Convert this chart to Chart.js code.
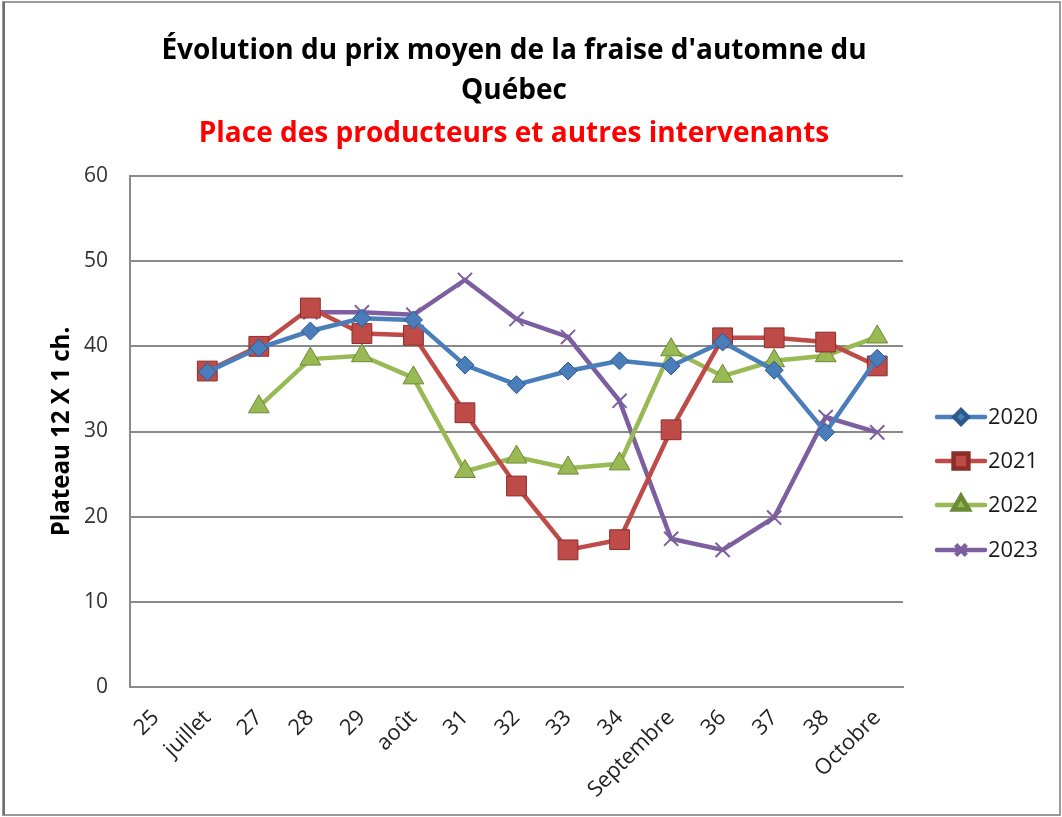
<!DOCTYPE html>
<html>
<head>
<meta charset="utf-8">
<script src="https://cdn.jsdelivr.net/npm/chart.js@4/dist/chart.umd.min.js"></script>
<style>
html,body{margin:0;padding:0;background:#fff;}
#wrap{width:1062px;height:817px;position:relative;}
</style>
</head>
<body>
<div id="wrap"><canvas id="c" width="1062" height="817"></canvas></div>
<script>
const categories = ['25','juillet','27','28','29','août','31','32','33','34','Septembre','36','37','38','Octobre'];
const seriesNames = ['2020','2021','2022','2023'];
const v2020 = [null, 37, 39.8, 41.8, 43.3, 43.1, 37.8, 35.5, 37.1, 38.3, 37.7, 40.5, 37.2, 29.9, 38.6];
const v2021 = [null, 37.1, 40.0, 44.5, 41.5, 41.3, 32.2, 23.6, 16.1, 17.3, 30.2, 41.0, 41.0, 40.5, 37.7];
const v2022 = [null, null, 32.9, 38.5, 38.9, 36.3, 25.3, 27.0, 25.7, 26.2, 39.6, 36.5, 38.3, 38.9, 41.1];
const v2023 = [null, null, null, 44.0, 44.0, 43.7, 47.8, 43.2, 41.1, 33.6, 17.4, 16.1, 19.9, 31.7, 29.9];
const yTicks = [0, 10, 20, 30, 40, 50, 60];

const titleLines = ["Évolution du prix moyen de la fraise d'automne du", 'Québec'];
const subtitleText = 'Place des producteurs et autres intervenants';
const yTitleText = 'Plateau 12 X 1 ch.';

const FAM = '"Open Sans", Lato, sans-serif';
const mctx = document.createElement('canvas').getContext('2d');
function fitSize(text, weight, target) {
  mctx.font = weight + ' 100px ' + FAM;
  const w = mctx.measureText(text).width;
  return Math.round(100 * target / w * 10) / 10;
}
const titleSize = Math.min(fitSize(titleLines[0], 'bold', 723), 28);
const subSize = Math.min(fitSize(subtitleText, 'bold', 638), 28);
const yTitleSize = fitSize(yTitleText, 'bold', 210);
const xTickSize = Math.min(fitSize('Septembre', 'normal', 112), 22);
const yTickSize = Math.min(fitSize('60', 'normal', 25), 21);
const legendSize = Math.min(fitSize('2020', 'normal', 50), 22);

const colors = ['#4A7EBB', '#BE4B48', '#98B954', '#7D5FA0'];
const borders = ['#2C5A8C', '#8C2D2A', '#6B8A35', '#5A4078'];
const styles = ['rectRot', 'rect', 'triangle', 'crossRot'];
const radii = [9, 14, 12, 10];
const allValues = [v2020, v2021, v2022, v2023];

const datasets = seriesNames.map((n, i) => ({
  label: n,
  data: allValues[i],
  borderColor: colors[i],
  backgroundColor: colors[i],
  borderWidth: 4.5,
  pointStyle: styles[i],
  pointRadius: radii[i],
  pointHoverRadius: radii[i],
  pointBackgroundColor: colors[i],
  pointBorderColor: i === 3 ? colors[i] : borders[i],
  pointBorderWidth: i === 3 ? 2 : 1,
  tension: 0,
  spanGaps: false
}));

const frame = {
  id: 'frame',
  beforeDraw(chart) {
    const ctx = chart.ctx;
    ctx.save();
    ctx.fillStyle = '#fff';
    ctx.fillRect(0, 0, chart.width, chart.height);
    ctx.strokeStyle = '#9a9a9a';
    ctx.lineWidth = 2;
    ctx.strokeRect(3, 2, chart.width - 5, chart.height - 4);
    ctx.strokeStyle = '#6e6e6e';
    ctx.beginPath(); ctx.moveTo(4, 2); ctx.lineTo(4, chart.height - 2); ctx.stroke();
    ctx.restore();
  }
};

const titleShift = {
  id: 'titleShift',
  afterLayout(chart) {
    chart.boxes.forEach(b => {
      if (b.options && (b.options.text === titleLines || b.options.text === subtitleText)) {
        b.left = 0; b.right = 1028; b.width = 1028;
      }
    });
  }
};

const customLegend = {
  id: 'customLegend',
  afterDraw(chart) {
    const ctx = chart.ctx;
    const ys = [417, 461, 505, 550];
    ctx.save();
    chart.data.datasets.forEach((ds, i) => {
      const y = ys[i];
      ctx.strokeStyle = ds.borderColor;
      ctx.lineWidth = 4.5;
      ctx.lineCap = 'round';
      ctx.beginPath(); ctx.moveTo(937, y); ctx.lineTo(985, y); ctx.stroke();
      ctx.fillStyle = ds.pointBackgroundColor;
      ctx.strokeStyle = ds.pointBorderColor;
      ctx.lineCap = 'butt';
      Chart.helpers.drawPoint(ctx, {pointStyle: ds.pointStyle, rotation: 0, borderWidth: ds.pointBorderWidth, radius: ds.pointRadius * 0.75}, 961, y);
      ctx.fillStyle = '#1a1a1a';
      ctx.font = legendSize + 'px ' + FAM;
      ctx.textAlign = 'left';
      ctx.textBaseline = 'middle';
      ctx.fillText(ds.label, 988, y + 1);
    });
    ctx.restore();
  }
};

new Chart(document.getElementById('c'), {
  type: 'line',
  data: { labels: categories, datasets },
  plugins: [frame, titleShift, customLegend],
  options: {
    responsive: false,
    animation: false,
    devicePixelRatio: 1,
    layout: { padding: { left: 0, right: 159, top: 0, bottom: 0 } },
    plugins: {
      legend: { display: false },
      tooltip: { enabled: false },
      title: {
        display: true,
        text: titleLines,
        color: '#000',
        font: { family: FAM, size: titleSize, weight: 'bold', lineHeight: '40px' },
        padding: { top: 31, bottom: 1 }
      },
      subtitle: {
        display: true,
        text: subtitleText,
        color: '#FF0000',
        font: { family: FAM, size: subSize, weight: 'bold', lineHeight: '40px' },
        padding: { top: 2, bottom: 22 }
      }
    },
    scales: {
      x: {
        type: 'category',
        offset: true,
        grid: { display: false, drawTicks: false },
        border: { display: true, color: '#8a8a8a', width: 2 },
        ticks: {
          color: '#222',
          font: { family: FAM, size: xTickSize },
          minRotation: 45, maxRotation: 45,
          padding: 18,
          autoSkip: false
        },
        afterFit(s) { s.height = 130; }
      },
      y: {
        min: 0, max: 60,
        afterBuildTicks(s) { s.ticks = yTicks.map(v => ({ value: v })); },
        grid: { color: '#8a8a8a', lineWidth: 2, drawTicks: false },
        border: { display: true, color: '#8a8a8a', width: 2 },
        ticks: {
          color: '#333',
          font: { family: FAM, size: yTickSize },
          padding: 22
        },
        title: {
          display: true,
          text: yTitleText,
          color: '#000',
          font: { family: FAM, size: yTitleSize, weight: 'bold', lineHeight: 1.2 },
          padding: { top: 48, bottom: 0 }
        },
        afterFit(s) { s.width = 130; }
      }
    }
  }
});
</script>
</body>
</html>
